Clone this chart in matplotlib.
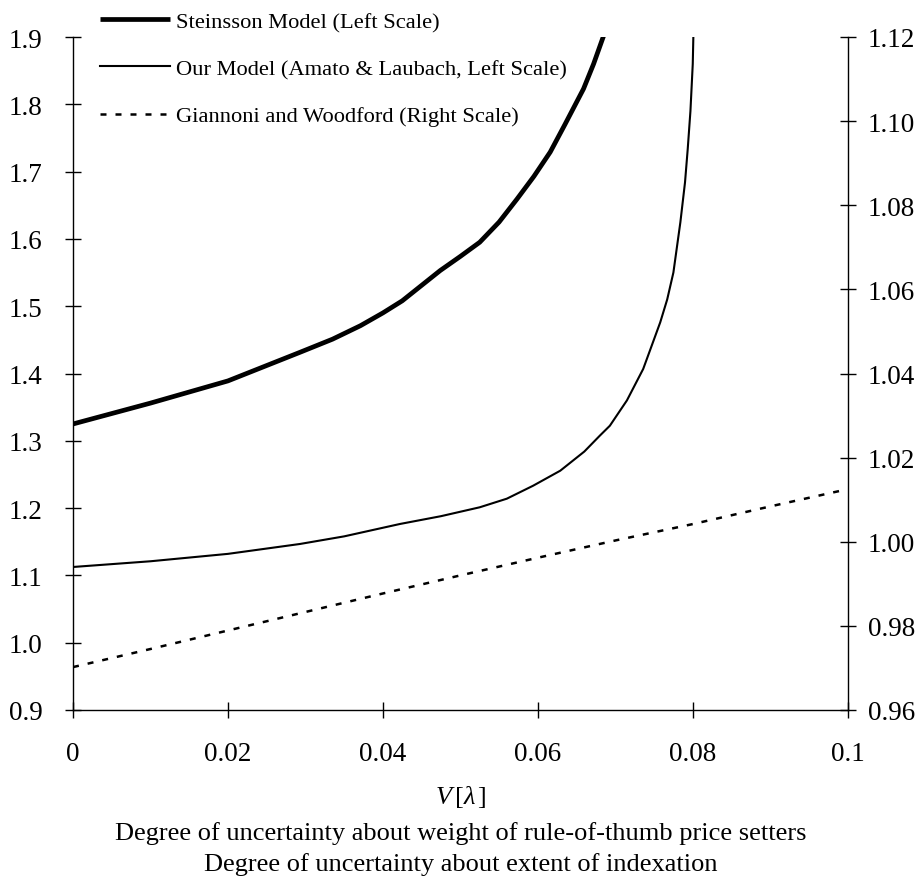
import matplotlib

matplotlib.use("Agg")
import matplotlib.pyplot as plt

plt.rcParams["font.family"] = ["Liberation Serif", "DejaVu Serif"]
plt.rcParams["mathtext.fontset"] = "custom"
plt.rcParams["mathtext.rm"] = "Liberation Serif"
plt.rcParams["mathtext.it"] = "Liberation Serif:italic"

# values
steinsson_x = [0.0, 0.01, 0.02, 0.0293, 0.0335, 0.0371, 0.0400, 0.0425, 0.0474, 0.0500, 0.0525,
               0.0550, 0.0573, 0.0595, 0.0616, 0.0635, 0.0659, 0.0672, 0.0685]
steinsson_y = [1.325, 1.356, 1.389, 1.4315, 1.451, 1.471, 1.490, 1.508, 1.553, 1.574, 1.595,
               1.625, 1.659, 1.693, 1.729, 1.770, 1.823, 1.860, 1.902]

ours_x = [0.0, 0.01, 0.02, 0.0293, 0.0350, 0.0422, 0.0475, 0.0525, 0.0560, 0.0594, 0.0629,
          0.0660, 0.0680, 0.0693, 0.0715, 0.0736, 0.0745, 0.0758, 0.0767, 0.0775, 0.0784,
          0.0790, 0.07935, 0.0797, 0.0800, 0.08008]
ours_y = [1.1125, 1.121, 1.132, 1.1467, 1.158, 1.1764, 1.188, 1.2012, 1.214, 1.2333, 1.2556,
          1.284, 1.3076, 1.3224, 1.360, 1.4067, 1.435, 1.476, 1.510, 1.550, 1.6247,
          1.684, 1.7336, 1.790, 1.860, 1.902]

gw_x = [0.0, 0.01, 0.02, 0.03, 0.04, 0.05, 0.06, 0.07, 0.08, 0.09, 0.1]
gw_y = [0.9702, 0.9745, 0.9789, 0.9833, 0.9877, 0.9920, 0.9962, 1.0003, 1.0042, 1.0084, 1.0125]

x_ticks = [0, 0.02, 0.04, 0.06, 0.08, 0.1]
x_ticklabels = ["0", "0.02", "0.04", "0.06", "0.08", "0.1"]
left_ticks = [0.9, 1.0, 1.1, 1.2, 1.3, 1.4, 1.5, 1.6, 1.7, 1.8, 1.9]
right_ticks = [0.96, 0.98, 1.00, 1.02, 1.04, 1.06, 1.08, 1.10, 1.12]

fig = plt.figure(figsize=(9.21, 8.79), dpi=100)
ax = fig.add_axes([73 / 921, 1 - 711 / 879, (847.7 - 73) / 921, (711 - 38) / 879])
ax2 = ax.twinx()

l1, = ax.plot(steinsson_x, steinsson_y, color="black", lw=3.4, solid_capstyle="butt",
              solid_joinstyle="round", label="Steinsson Model (Left Scale)")
l2, = ax.plot(ours_x, ours_y, color="black", lw=1.5, solid_joinstyle="round",
              label="Our Model (Amato & Laubach, Left Scale)")
l3, = ax2.plot(gw_x, gw_y, color="black", lw=1.8, dashes=(2.4, 3.6),
               label="Giannoni and Woodford (Right Scale)")

ax.set_xlim(0, 0.1)
ax.set_ylim(0.9, 1.9)
ax2.set_ylim(0.96, 1.12)
ax.set_xticks(x_ticks)
ax.set_xticklabels(x_ticklabels)
ax.set_yticks(left_ticks)
ax.set_yticklabels([f"{v:.1f}" for v in left_ticks])
ax2.set_yticks(right_ticks)
ax2.set_yticklabels([f"{v:.2f}" for v in right_ticks])

for a in (ax, ax2):
    a.spines["top"].set_visible(False)
    for s in a.spines.values():
        s.set_linewidth(1.0)
ax.spines["right"].set_visible(False)
ax2.spines["left"].set_visible(False)
ax2.spines["bottom"].set_visible(False)

ax.tick_params(axis="y", direction="inout", length=12, width=1.0, labelsize=19.5, pad=16)
ax.tick_params(axis="x", direction="inout", length=12, width=1.0, labelsize=19.5, pad=16)
ax2.tick_params(axis="y", direction="inout", length=12, width=1.0, labelsize=19.5, pad=8.5)

leg = fig.legend(handles=[l1, l2, l3], loc="upper left", bbox_to_anchor=(100 / 921, 1 - 12.5 / 879),
                 frameon=False, fontsize=16.2, handlelength=3.1, handletextpad=0.3,
                 labelspacing=1.17, borderpad=0, borderaxespad=0)

cx = (73 + 847.7) / 2 / 921
fig.text(cx, 1 - 797 / 879, r"$V\,[\lambda\,]$", ha="center", va="center", fontsize=19)
fig.text(cx, 1 - 834 / 879, "Degree of uncertainty about weight of rule-of-thumb price setters",
         ha="center", va="center", fontsize=19)
fig.text(cx, 1 - 865 / 879, "Degree of uncertainty about extent of indexation",
         ha="center", va="center", fontsize=19)

fig.savefig("out.png", dpi=100)
